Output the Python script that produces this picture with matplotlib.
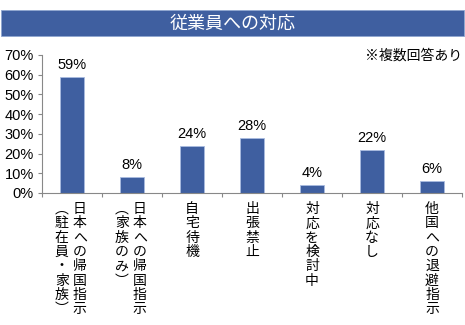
import matplotlib
matplotlib.use('Agg')
import matplotlib.pyplot as plt
from matplotlib.transforms import blended_transform_factory
from matplotlib.patches import Rectangle

plt.rcParams['font.family'] = ['Noto Sans CJK JP', 'DejaVu Sans']

# Data
categories = [
    ['日本への帰国指示', '（駐在員・家族）'],
    ['日本への帰国指示', '（家族のみ）'],
    ['自宅待機'],
    ['出張禁止'],
    ['対応を検討中'],
    ['対応なし'],
    ['他国への退避指示'],
]
values = [59, 8, 24, 28, 4, 22, 6]
yticks = [0, 10, 20, 30, 40, 50, 60, 70]

bar_color = '#3F5FA0'
num_font = ['Liberation Sans', 'DejaVu Sans']

fig = plt.figure(figsize=(4.65, 3.25), dpi=100)
ax = fig.add_axes([42 / 465, 1 - 193 / 325, 420 / 465, 138 / 325])

x = list(range(len(values)))
ax.bar(x, values, width=0.4, color=bar_color, edgecolor='#A9BCE0', linewidth=0.6)

ax.set_xlim(-0.5, len(values) - 0.5)
ax.set_ylim(0, 70)
ax.set_yticks(yticks)
ax.set_yticklabels([f'{t}%' for t in yticks], family=num_font, fontsize=10.5)
ax.set_xticks([i - 0.5 for i in range(len(values) + 1)])
ax.set_xticklabels([])
ax.tick_params(axis='x', length=3, color='#888888', direction='out')
ax.tick_params(axis='y', length=3, color='#888888', direction='out', pad=3)
for s in ['top', 'right']:
    ax.spines[s].set_visible(False)
for s in ['left', 'bottom']:
    ax.spines[s].set_color('#888888')
    ax.spines[s].set_linewidth(0.8)

# value labels
for i, v in enumerate(values):
    ax.text(i, v + 2.5, f'{v}%', ha='center', va='bottom', family=num_font, fontsize=10.5)

# vertical category labels (columns read right to left)
trans = blended_transform_factory(ax.transData, fig.transFigure)
vert = {'（': '︵', '）': '︶'}
for i, cols in enumerate(categories):
    n = len(cols)
    for j, col in enumerate(cols):
        off = 0.0 if n == 1 else (0.13 if j == 0 else -0.17)
        txt = '\n'.join(vert.get(c, c) for c in col)
        ax.text(i + off, 1 - 202 / 325, txt, transform=trans, ha='center', va='top',
                fontsize=10, linespacing=1.03)

# title bar
fig.patches.append(Rectangle((1 / 465, 1 - 36 / 325), 463 / 465, 26 / 325,
                             transform=fig.transFigure, facecolor='#3F5FA0',
                             edgecolor='#8FA6D0', linewidth=0.6))
fig.text(233 / 465, 1 - 23.5 / 325, '従業員への対応', color='white', ha='center',
         va='center', fontsize=13)
fig.text(462 / 465, 1 - 56 / 325, '※複数回答あり', ha='right', va='center', fontsize=10)

fig.savefig('out.png', dpi=100)
